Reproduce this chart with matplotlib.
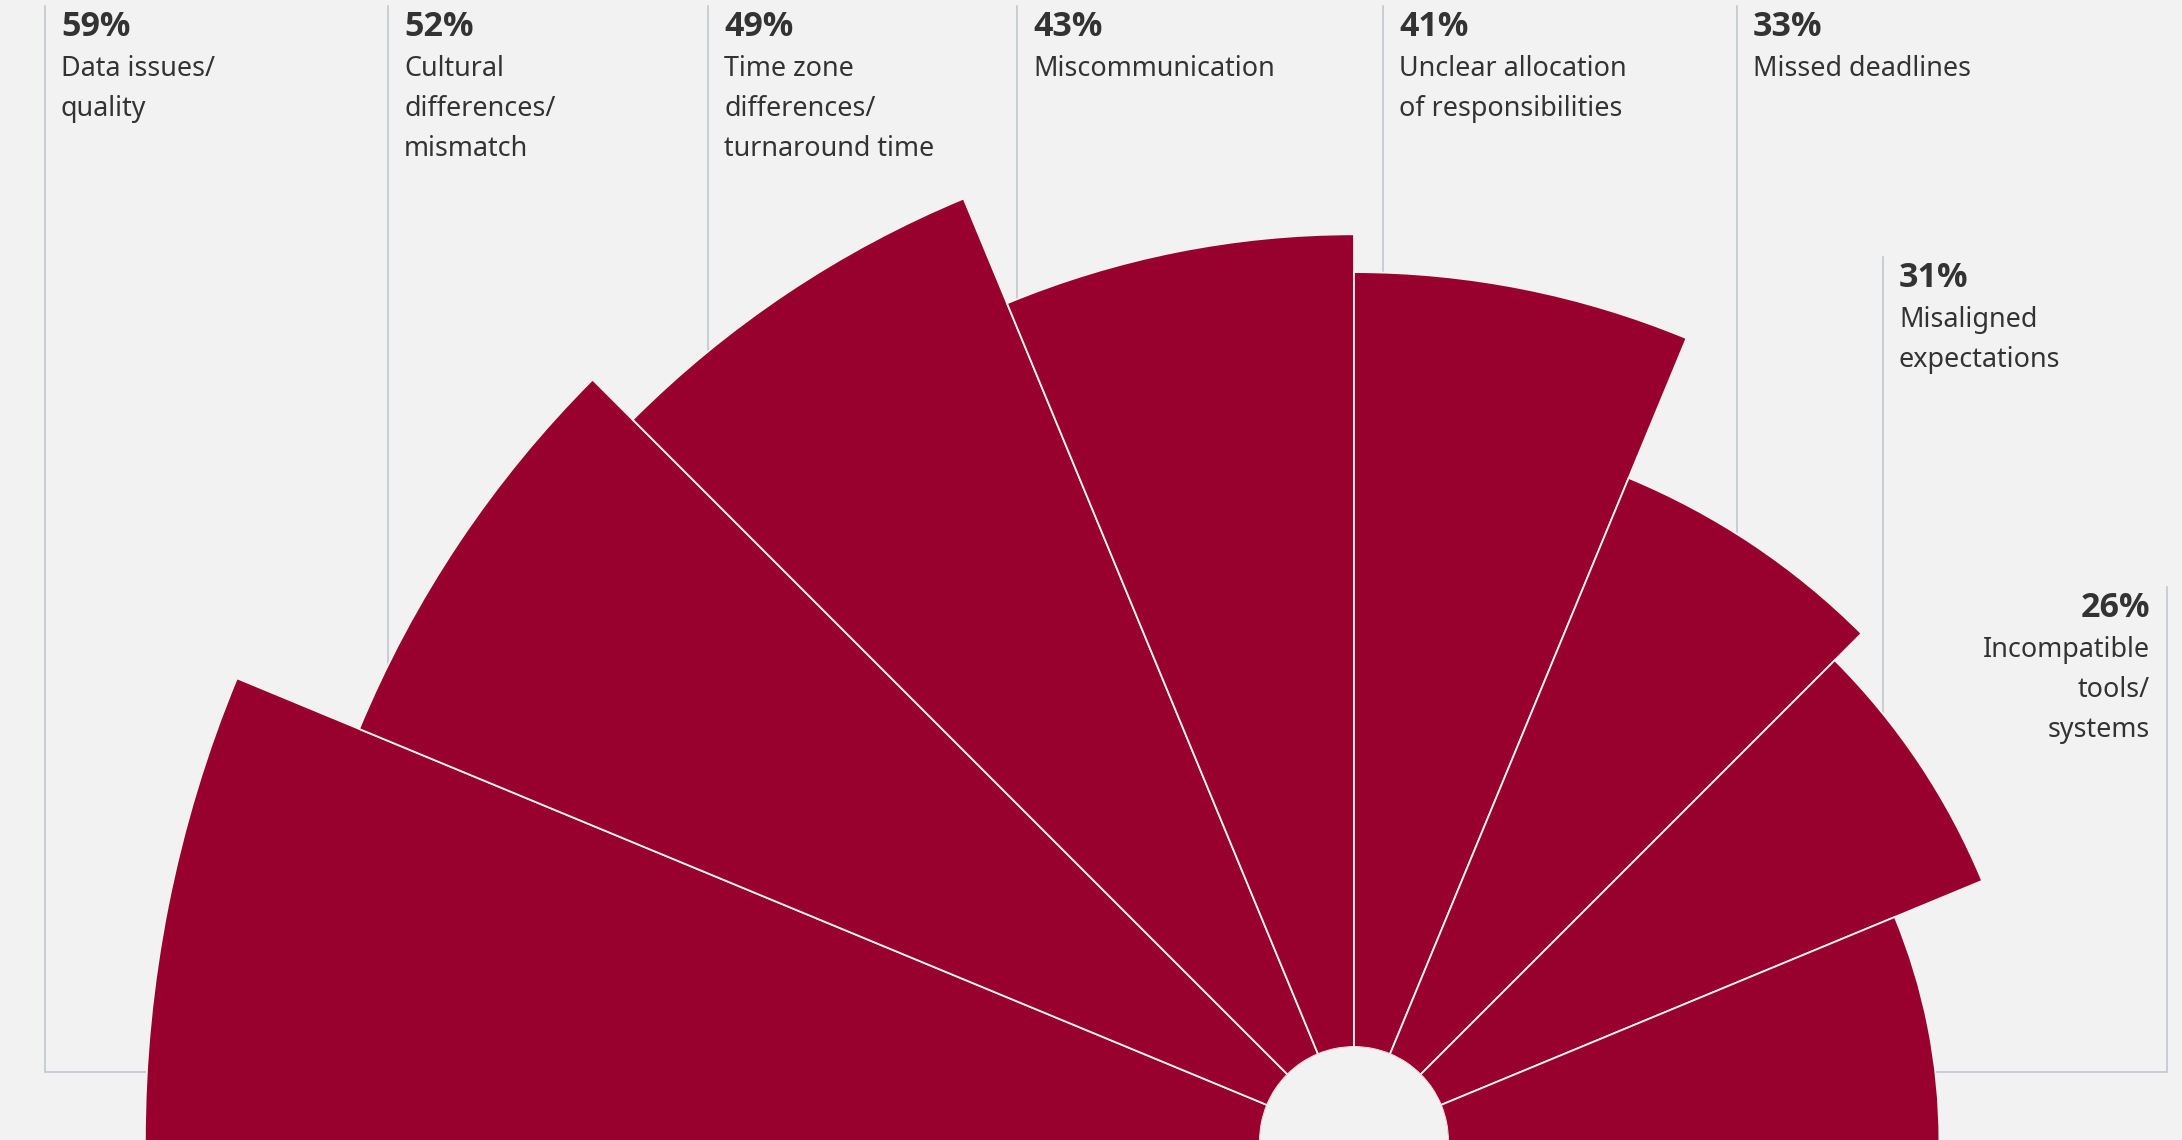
import numpy as np
import matplotlib.pyplot as plt

# survey results, share of respondents
values = [59, 52, 49, 43, 41, 33, 31, 26]
labels = [
    "Data issues/\nquality",
    "Cultural\ndifferences/\nmismatch",
    "Time zone\ndifferences/\nturnaround time",
    "Miscommunication",
    "Unclear allocation\nof responsibilities",
    "Missed deadlines",
    "Misaligned\nexpectations",
    "Incompatible\ntools/\nsystems",
]

BG = "#f2f2f2"
RED = "#98002e"
TEXT = "#333333"
GUIDE = "#bcc4cc"
FONT = "Noto Sans"
FONT_BOLD = "Open Sans"

W, H = 2182, 1140
CX, CY = 1354, 1141          # centre of the fan, pixels from top-left
HOLE = 94                    # inner hole radius, px
SCALE = 18.9                 # px per percentage point
RMAX = 62

# leader line x positions and top ends (px)
guide_x = [45, 388, 708, 1017, 1383, 1737, 1883, 2167]
guide_top = [6, 6, 6, 6, 6, 6, 257, 587]
box_y = 1072


def radius_px(v):
    return HOLE + v * SCALE


fig = plt.figure(figsize=(W / 100, H / 100), dpi=100, facecolor=BG)

# overlay in pixel coordinates for guides and labels
ov = fig.add_axes([0, 0, 1, 1], zorder=1)
ov.set_xlim(0, W)
ov.set_ylim(H, 0)
ov.set_axis_off()

# polar fan
R_axes = (RMAX + HOLE / SCALE) * SCALE
ax = fig.add_axes([(CX - R_axes) / W, ((H - CY) - R_axes) / H,
                   2 * R_axes / W, 2 * R_axes / H],
                  projection="polar", zorder=2)
ax.patch.set_alpha(0)
n = len(values)
width = np.pi / n
theta = np.pi - (np.arange(n) + 0.5) * width
ax.bar(theta, values, width=width, bottom=0, color=RED,
       edgecolor=BG, linewidth=1.3, align="center")
ax.set_rorigin(-HOLE / SCALE)
ax.set_ylim(0, RMAX)
ax.set_axis_off()

for i, (v, lab) in enumerate(zip(values, labels)):
    x = guide_x[i]
    top = guide_top[i]
    r = radius_px(v)
    if i == 0:
        xe = CX - np.sqrt(r ** 2 - (CY - box_y) ** 2)
        ov.plot([x, x, xe], [top, box_y, box_y], color=GUIDE, lw=1.1,
                solid_joinstyle="miter")
    elif i == n - 1:
        xe = CX + np.sqrt(r ** 2 - (CY - box_y) ** 2)
        ov.plot([x, x, xe], [top, box_y, box_y], color=GUIDE, lw=1.1,
                solid_joinstyle="miter")
    else:
        ye = CY - np.sqrt(r ** 2 - (x - CX) ** 2)
        ov.plot([x, x], [top, ye], color=GUIDE, lw=1.1)

    if i == n - 1:
        tx, ha = x - 17, "right"
    else:
        tx, ha = x + 16, "left"
    base = top + 30
    ov.text(tx, base, f"{v}%", ha=ha, va="baseline", fontsize=24.5,
            fontweight="bold", color=TEXT, family=FONT_BOLD)
    for j, line in enumerate(lab.split("\n")):
        ov.text(tx, base + 40 * (j + 1), line, ha=ha, va="baseline",
                fontsize=19.4, color=TEXT, family=FONT)

fig.savefig("out.png", dpi=100, facecolor=BG)
